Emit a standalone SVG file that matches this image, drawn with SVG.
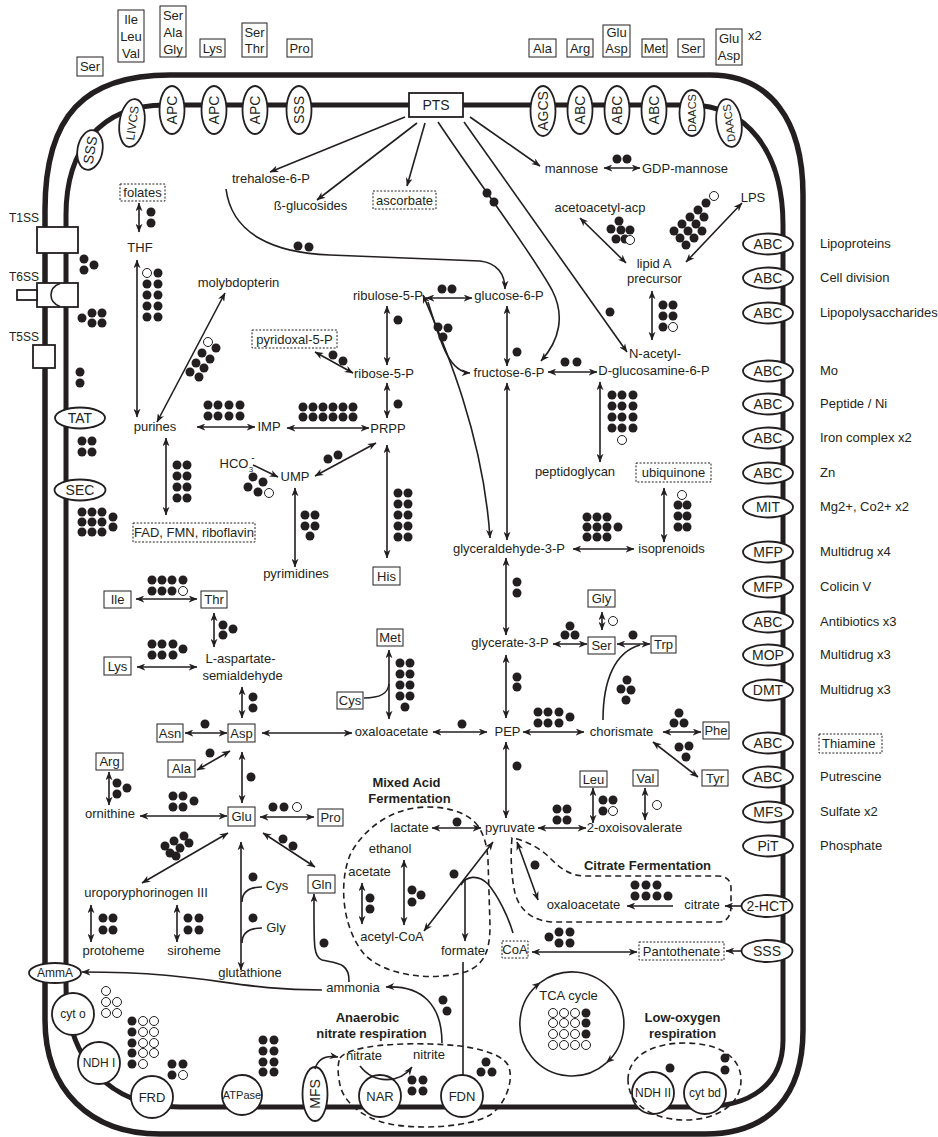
<svg xmlns="http://www.w3.org/2000/svg" width="938" height="1137" viewBox="0 0 938 1137">
<defs>
<style>
text{font-family:"Liberation Sans",Arial,sans-serif;font-size:13px;fill:#231f20;text-anchor:middle}
.st{text-anchor:start}
.bd{font-weight:bold}
.tl{font-size:14px}
.sm{font-size:12px}
.xs{font-size:11px}
.m{fill:none;stroke:#231f20;stroke-width:5.5}
.mi{fill:none;stroke:#231f20;stroke-width:5}
.c{fill:none;stroke:#231f20;stroke-width:1.6}
.a{marker-end:url(#ah)}
.d{marker-start:url(#ah);marker-end:url(#ah)}
.bx{fill:#fff;stroke:#231f20;stroke-width:1}
.dx{fill:#fff;stroke:#231f20;stroke-width:1;stroke-dasharray:2,1.6}
.tr{fill:#fff;stroke:#231f20;stroke-width:1.8}
.f{fill:#231f20}
.o{fill:#fff;stroke:#231f20;stroke-width:1}
.ds{fill:none;stroke:#231f20;stroke-width:1.6;stroke-dasharray:6,4}
</style>
<marker id="ah" viewBox="0 0 10 8" refX="9.5" refY="4" markerWidth="9" markerHeight="7" markerUnits="userSpaceOnUse" orient="auto-start-reverse"><path d="M0,0 L10,4 L0,8 L3,4 Z" fill="#231f20"/></marker>
</defs>
<rect width="938" height="1137" fill="#fff"/>

<g id="membranes">
<path class="m" d="M170,75 L710,75 C770,75 803,120 803,195 L803,1030 C803,1095 770,1134 705,1134 L160,1134 C90,1134 45,1090 45,1020 L45,210 C45,115 85,75 170,75 Z"/>
<path class="mi" d="M165,105 L690,105 C745,105 783,150 783,225 L783,1040 C783,1085 750,1107 700,1107 L180,1107 C110,1107 66,1060 66,985 L66,215 C66,150 100,105 165,105 Z"/>
</g>

<g id="external">
<g id="ex-ser1"><rect class="bx" x="77" y="57" width="26" height="19"/><text x="90" y="71">Ser</text></g>
<g id="ex-ilv"><rect class="bx" x="118" y="10" width="26" height="52"/><text x="131" y="24">Ile</text><text x="131" y="41">Leu</text><text x="131" y="58">Val</text></g>
<g id="ex-sag"><rect class="bx" x="160" y="6" width="26" height="51"/><text x="173" y="20">Ser</text><text x="173" y="37">Ala</text><text x="173" y="54">Gly</text></g>
<g id="ex-lys"><rect class="bx" x="200" y="39" width="25" height="18"/><text x="212.5" y="53">Lys</text></g>
<g id="ex-st"><rect class="bx" x="242" y="23" width="25" height="34"/><text x="254.5" y="37">Ser</text><text x="254.5" y="53">Thr</text></g>
<g id="ex-pro"><rect class="bx" x="287" y="39" width="25" height="18"/><text x="299.5" y="53">Pro</text></g>
<g id="ex-ala"><rect class="bx" x="529" y="39" width="27" height="18"/><text x="542.5" y="53">Ala</text></g>
<g id="ex-arg"><rect class="bx" x="567" y="39" width="26" height="18"/><text x="580" y="53">Arg</text></g>
<g id="ex-ga1"><rect class="bx" x="603" y="25" width="27" height="32"/><text x="616.5" y="37">Glu</text><text x="616.5" y="53">Asp</text></g>
<g id="ex-met"><rect class="bx" x="642" y="39" width="25" height="18"/><text x="654.5" y="53">Met</text></g>
<g id="ex-ser2"><rect class="bx" x="678" y="39" width="26" height="18"/><text x="691" y="53">Ser</text></g>
<g id="ex-ga2"><rect class="bx" x="716" y="29" width="26" height="36"/><text x="729" y="43">Glu</text><text x="729" y="60">Asp</text><text class="st" x="748" y="40">x2</text></g>
</g>

<g id="transporters">
<g id="tp-sss1"><ellipse class="tr" cx="90" cy="150" rx="12.5" ry="20" transform="rotate(10 90 150)"/><text class="tl" transform="translate(90,150) rotate(-80)" y="5">SSS</text></g>
<g id="tp-livcs"><ellipse class="tr" cx="132" cy="123" rx="12.5" ry="24" transform="rotate(8 132 123)"/><text class="sm" transform="translate(132,123) rotate(-82)" y="4.5">LIVCS</text></g>
<g id="tp-apc1"><ellipse class="tr" cx="172" cy="110" rx="12.5" ry="24"/><text class="tl" transform="translate(172,110) rotate(-90)" y="5">APC</text></g>
<g id="tp-apc2"><ellipse class="tr" cx="214" cy="110" rx="12.5" ry="24"/><text class="tl" transform="translate(214,110) rotate(-90)" y="5">APC</text></g>
<g id="tp-apc3"><ellipse class="tr" cx="255" cy="110" rx="12.5" ry="24"/><text class="tl" transform="translate(255,110) rotate(-90)" y="5">APC</text></g>
<g id="tp-sss2"><ellipse class="tr" cx="299" cy="110" rx="12.5" ry="24"/><text class="tl" transform="translate(299,110) rotate(-90)" y="5">SSS</text></g>
<g id="tp-pts"><rect class="tr" x="409" y="93" width="54" height="24"/><text class="tl" x="436" y="110">PTS</text></g>
<g id="tp-agcs"><ellipse class="tr" cx="543" cy="111" rx="12.5" ry="25"/><text class="tl" transform="translate(543,111) rotate(-90)" y="5">AGCS</text></g>
<g id="tp-abc1"><ellipse class="tr" cx="580" cy="110" rx="12.5" ry="24"/><text class="tl" transform="translate(580,110) rotate(-90)" y="5">ABC</text></g>
<g id="tp-abc2"><ellipse class="tr" cx="617" cy="110" rx="12.5" ry="24"/><text class="tl" transform="translate(617,110) rotate(-90)" y="5">ABC</text></g>
<g id="tp-abc3"><ellipse class="tr" cx="654" cy="110" rx="12.5" ry="24"/><text class="tl" transform="translate(654,110) rotate(-90)" y="5">ABC</text></g>
<g id="tp-daacs1"><ellipse class="tr" cx="692" cy="113" rx="12.5" ry="23"/><text class="xs" transform="translate(692,113) rotate(-90)" y="4">DAACS</text></g>
<g id="tp-daacs2"><ellipse class="tr" cx="729" cy="123" rx="12.5" ry="24" transform="rotate(-8 729 123)"/><text class="xs" transform="translate(729,123) rotate(-98)" y="4">DAACS</text></g>

<g id="tp-t1ss"><rect class="tr" x="37" y="227" width="41" height="26"/><text class="sm" x="24" y="222">T1SS</text></g>
<g id="tp-t6ss"><rect class="tr" x="37" y="283" width="41" height="24"/><rect class="tr" x="17" y="290" width="20" height="10"/><path class="c" d="M60,283.5 C48,288 48,302 60,306.5"/><text class="sm" x="24" y="281">T6SS</text></g>
<g id="tp-t5ss"><rect class="tr" x="33" y="345" width="22" height="23"/><text class="sm" x="24" y="341">T5SS</text></g>
<g id="tp-tat"><ellipse class="tr" cx="80" cy="418" rx="25" ry="10.5"/><text class="tl" x="80" y="423">TAT</text></g>
<g id="tp-sec"><ellipse class="tr" cx="80" cy="490" rx="25.5" ry="10.5"/><text class="tl" x="80" y="495">SEC</text></g>

<g id="tp-r1"><ellipse class="tr" cx="768" cy="244" rx="25" ry="10.5"/><text class="tl" x="768" y="249">ABC</text><text class="st" x="820" y="248">Lipoproteins</text></g>
<g id="tp-r2"><ellipse class="tr" cx="768" cy="278" rx="25" ry="10.5"/><text class="tl" x="768" y="283">ABC</text><text class="st" x="820" y="282">Cell division</text></g>
<g id="tp-r3"><ellipse class="tr" cx="768" cy="313" rx="25" ry="10.5"/><text class="tl" x="768" y="318">ABC</text><text class="st" x="820" y="317">Lipopolysaccharides</text></g>
<g id="tp-r4"><ellipse class="tr" cx="768" cy="371" rx="25" ry="10.5"/><text class="tl" x="768" y="376">ABC</text><text class="st" x="820" y="375">Mo</text></g>
<g id="tp-r5"><ellipse class="tr" cx="768" cy="404" rx="25" ry="10.5"/><text class="tl" x="768" y="409">ABC</text><text class="st" x="820" y="408">Peptide / Ni</text></g>
<g id="tp-r6"><ellipse class="tr" cx="768" cy="438" rx="25" ry="10.5"/><text class="tl" x="768" y="443">ABC</text><text class="st" x="820" y="442">Iron complex x2</text></g>
<g id="tp-r7"><ellipse class="tr" cx="768" cy="473" rx="25" ry="10.5"/><text class="tl" x="768" y="478">ABC</text><text class="st" x="820" y="477">Zn</text></g>
<g id="tp-r8"><ellipse class="tr" cx="768" cy="507" rx="25" ry="10.5"/><text class="tl" x="768" y="512">MIT</text><text class="st" x="820" y="511">Mg2+, Co2+ x2</text></g>
<g id="tp-r9"><ellipse class="tr" cx="768" cy="552" rx="25" ry="10.5"/><text class="tl" x="768" y="557">MFP</text><text class="st" x="820" y="556">Multidrug x4</text></g>
<g id="tp-r10"><ellipse class="tr" cx="768" cy="587" rx="25" ry="10.5"/><text class="tl" x="768" y="592">MFP</text><text class="st" x="820" y="591">Colicin V</text></g>
<g id="tp-r11"><ellipse class="tr" cx="768" cy="622" rx="25" ry="10.5"/><text class="tl" x="768" y="627">ABC</text><text class="st" x="820" y="626">Antibiotics x3</text></g>
<g id="tp-r12"><ellipse class="tr" cx="768" cy="655" rx="25" ry="10.5"/><text class="tl" x="768" y="660">MOP</text><text class="st" x="820" y="659">Multidrug x3</text></g>
<g id="tp-r13"><ellipse class="tr" cx="768" cy="690" rx="25" ry="10.5"/><text class="tl" x="768" y="695">DMT</text><text class="st" x="820" y="694">Multidrug x3</text></g>
<g id="tp-r14"><ellipse class="tr" cx="768" cy="743" rx="25" ry="10.5"/><text class="tl" x="768" y="748">ABC</text><rect class="dx" x="819" y="734" width="63" height="19"/><text class="st" x="822" y="748">Thiamine</text></g>
<g id="tp-r15"><ellipse class="tr" cx="768" cy="777" rx="25" ry="10.5"/><text class="tl" x="768" y="782">ABC</text><text class="st" x="820" y="781">Putrescine</text></g>
<g id="tp-r16"><ellipse class="tr" cx="768" cy="812" rx="25" ry="10.5"/><text class="tl" x="768" y="817">MFS</text><text class="st" x="820" y="816">Sulfate x2</text></g>
<g id="tp-r17"><ellipse class="tr" cx="768" cy="846" rx="25" ry="10.5"/><text class="tl" x="768" y="851">PiT</text><text class="st" x="820" y="850">Phosphate</text></g>
<g id="tp-2hct"><ellipse class="tr" cx="767" cy="906" rx="25.5" ry="11"/><text class="tl" x="767" y="911">2-HCT</text></g>
<g id="tp-sss3"><ellipse class="tr" cx="767" cy="951" rx="25.5" ry="11"/><text class="tl" x="767" y="956">SSS</text></g>

<g id="tp-amma"><ellipse class="tr" cx="55" cy="973" rx="26" ry="10"/><text class="sm" x="55" y="977">AmmA</text></g>
<g id="tp-cyto"><circle class="tr" cx="73" cy="1014" r="21"/><text class="sm" x="73" y="1018">cyt o</text></g>
<g id="tp-ndh1"><circle class="tr" cx="99" cy="1063" r="21"/><text class="sm" x="99" y="1067">NDH I</text></g>
<g id="tp-frd"><circle class="tr" cx="152" cy="1097" r="21"/><text x="152" y="1101.5">FRD</text></g>
<g id="tp-atpase"><circle class="tr" cx="242" cy="1095" r="20"/><text class="xs" x="242" y="1099">ATPase</text></g>
<g id="tp-mfs"><ellipse class="tr" cx="315" cy="1094" rx="12.5" ry="27"/><text class="tl" transform="translate(315,1094) rotate(-90)" y="5">MFS</text></g>
<g id="tp-nar"><circle class="tr" cx="380" cy="1096" r="21"/><text x="380" y="1100.5">NAR</text></g>
<g id="tp-fdn"><circle class="tr" cx="462" cy="1096" r="21"/><text x="462" y="1100.5">FDN</text></g>
<g id="tp-ndh2"><circle class="tr" cx="653" cy="1093" r="21"/><text class="sm" x="653" y="1097">NDH II</text></g>
<g id="tp-cytbd"><circle class="tr" cx="705" cy="1093" r="21"/><text class="sm" x="705" y="1097">cyt bd</text></g>
</g>

<g id="regions">
<path class="ds" d="M478,826 C465,808 430,803 405,810 C380,817 360,835 350,855 C338,885 343,930 365,955 C385,975 430,982 465,972 C485,965 490,950 490,925 L488,860 C487,845 484,835 478,826 Z"/>
<path class="ds" d="M512,838 C510,860 512,880 515,893 C520,912 535,922 555,922 L718,922 C728,922 731,915 731,905 L731,888 C731,880 726,876 718,876 L585,876 C570,876 560,868 550,858 C540,848 525,840 512,838 Z"/>
<path class="ds" d="M340,1058 C350,1045 400,1043 430,1044 C470,1045 500,1052 508,1065 C515,1080 505,1105 490,1115 C470,1127 420,1130 390,1124 C360,1118 343,1100 340,1085 C338,1075 337,1065 340,1058 Z"/>
<path class="ds" d="M628,1080 C628,1055 654,1043 685,1043 C716,1043 741,1055 741,1080 C741,1105 716,1120 685,1120 C654,1120 628,1105 628,1080 Z"/>
<text class="bd" x="406.5" y="787">Mixed Acid</text><text class="bd" x="409.5" y="803">Fermentation</text>
<text class="bd" x="647.5" y="870">Citrate Fermentation</text>
<text class="bd" x="367.5" y="1022">Anaerobic</text><text class="bd" x="371.5" y="1038">nitrate respiration</text>
<text class="bd" x="682.5" y="1022">Low-oxygen</text><text class="bd" x="682.5" y="1038">respiration</text>
</g>

<g id="connectors">
<path class="c a" d="M405,117 L270,172"/>
<path class="c a" d="M417,123 L317,200"/>
<path class="c a" d="M425,123 L407,186"/>
<path class="c a" d="M438,122 C480,185 530,250 552,290 C565,315 560,340 541,361"/>
<path class="c a" d="M464,122 L627,352"/>
<path class="c a" d="M470,117 L540,166"/>
<path class="c d" d="M604,168 L640,168"/>
<path class="c a" d="M226,189 C232,235 275,253 330,255 L480,261 C498,263 505,275 505,289"/>
<path class="c d" d="M426,298 L472,298"/>
<path class="c d" d="M387,306 L387,365"/>
<path class="c d" d="M507,306 L507,366"/>
<path class="c d" d="M423,295 C440,335 483,430 490,538"/>
<path class="c a" d="M428,302 C440,340 448,372 470,373"/>
<path class="c d" d="M548,372 L597,372"/>
<path class="c d" d="M507,383 L507,540"/>
<path class="c d" d="M652,291 L652,340"/>
<path class="c d" d="M580,218 L626,263"/>
<path class="c d" d="M686,262 L742,203"/>
<path class="c d" d="M600,382 L600,462"/>
<path class="c d" d="M664,488 L664,542"/>
<path class="c d" d="M573,549 L634,549"/>
<path class="c d" d="M315,352 L353,373"/>
<path class="c d" d="M387,383 L387,418"/>
<path class="c d" d="M287,428 L369,428"/>
<path class="c d" d="M197,427 L255,427"/>
<path class="c a" d="M253,465 L278,477"/>
<path class="c d" d="M315,476 L376,443"/>
<path class="c d" d="M295,488 L295,567"/>
<path class="c d" d="M387,445 L387,558"/>
<path class="c d" d="M139,203 L139,232"/>
<path class="c d" d="M137,260 L137,417"/>
<path class="c d" d="M157,422 L225,293"/>
<path class="c d" d="M166,438 L166,515"/>
<path class="c d" d="M136,599 L197,599"/>
<path class="c d" d="M214,613 L214,647"/>
<path class="c d" d="M137,667 L197,667"/>
<path class="c d" d="M242,687 L242,718"/>
<path class="c d" d="M185,733 L227,733"/>
<path class="c d" d="M262,733 L352,733"/>
<path class="c d" d="M197,770 L230,751"/>
<path class="c d" d="M242,752 L242,803"/>
<path class="c d" d="M109,772 L109,805"/>
<path class="c d" d="M140,816 L227,816"/>
<path class="c d" d="M260,817 L314,817"/>
<path class="c d" d="M389,650 L389,719"/>
<path class="c" d="M364,698 C380,698 388,694 389,684"/>
<path class="c d" d="M433,732 L487,732"/>
<path class="c d" d="M506,558 L506,635"/>
<path class="c d" d="M506,655 L506,718"/>
<path class="c d" d="M553,644 L587,644"/>
<path class="c d" d="M602,612 L602,630"/>
<path class="c d" d="M617,644 L650,644"/>
<path class="c" d="M603,720 C603,680 615,652 640,645"/>
<path class="c d" d="M523,732 L584,732"/>
<path class="c d" d="M663,732 L701,732"/>
<path class="c d" d="M653,742 L698,777"/>
<path class="c d" d="M506,742 L506,818"/>
<path class="c d" d="M432,828 L481,828"/>
<path class="c d" d="M538,828 L586,828"/>
<path class="c d" d="M593,788 L593,823"/>
<path class="c d" d="M645,788 L645,820"/>
<path class="c d" d="M362,883 L362,924"/>
<path class="c d" d="M404,860 L404,925"/>
<path class="c d" d="M493,842 L424,931"/>
<path class="c" d="M461,885 C466,876 478,874 488,884 C498,896 508,916 513,933"/>
<path class="c a" d="M465,879 L465,941"/>
<path class="c d" d="M517,842 L538,900"/>
<path class="c a" d="M673,906 L627,906"/>
<path class="c a" d="M742,906 L725,906"/>
<path class="c d" d="M532,952 L637,952"/>
<path class="c a" d="M742,951 L726,951"/>
<path class="c" d="M463,962 L463,1075"/>
<path class="c d" d="M263,833 L315,867"/>
<path class="c d" d="M228,833 L142,883"/>
<path class="c d" d="M91,905 L91,942"/>
<path class="c d" d="M177,905 L177,942"/>
<path class="c d" d="M241,842 L241,970"/>
<path class="c" d="M262,887 C248,887 242,893 242,902"/>
<path class="c" d="M262,928 C248,928 242,934 242,943"/>
<path class="c a" d="M322,990 C230,990 210,972 82,972"/>
<path class="c a" d="M349,982 C350,962 335,963 322,960 C313,957 314,945 314,894"/>
<path class="c a" d="M442,1043 C442,1005 422,985 386,987"/>
<path class="c a" d="M315,1069 C318,1058 326,1055 338,1057"/>
<path class="c a" d="M360,1066 C375,1085 400,1083 412,1067"/>
<path class="c a" d="M606.4,1062.8 A52,52 0 1,1 540.3,982.6"/>
<path class="c a" d="M540.3,982.6 A52,52 0 0,1 606.4,1062.8"/>
</g>

<g id="nodes">
<g id="n-treh"><text x="271" y="183">trehalose-6-P</text></g>
<g id="n-bglu"><text x="310.5" y="210">ß-glucosides</text></g>
<g id="n-asc"><rect class="dx" x="373" y="191" width="63" height="18"/><text x="404.5" y="205">ascorbate</text></g>
<g id="n-man"><text x="571.5" y="173">mannose</text></g>
<g id="n-gdpman"><text x="685" y="173">GDP-mannose</text></g>
<g id="n-acac"><text x="600" y="212">acetoacetyl-acp</text></g>
<g id="n-lps"><text x="753" y="202">LPS</text></g>
<g id="n-lipa"><text x="654" y="268">lipid A</text><text x="654.5" y="283">precursor</text></g>
<g id="n-fol"><rect class="dx" x="120" y="184" width="45" height="17"/><text x="142.5" y="197">folates</text></g>
<g id="n-thf"><text x="140" y="252">THF</text></g>
<g id="n-moly"><text x="238.5" y="287">molybdopterin</text></g>
<g id="n-ru5p"><text x="388" y="300">ribulose-5-P</text></g>
<g id="n-g6p"><text x="509" y="300">glucose-6-P</text></g>
<g id="n-pyr5p"><rect class="dx" x="252" y="330" width="85" height="18"/><text x="294.5" y="344">pyridoxal-5-P</text></g>
<g id="n-r5p"><text x="384" y="378">ribose-5-P</text></g>
<g id="n-f6p"><text x="509" y="377">fructose-6-P</text></g>
<g id="n-glcn"><text x="655" y="358">N-acetyl-</text><text x="654" y="375">D-glucosamine-6-P</text></g>
<g id="n-pur"><text x="155" y="431">purines</text></g>
<g id="n-imp"><text x="269" y="431">IMP</text></g>
<g id="n-prpp"><text x="388" y="433">PRPP</text></g>
<g id="n-hco3"><text x="234" y="468">HCO</text><text style="font-size:8px" x="251" y="472">3</text><text style="font-size:10px" x="253" y="461">-</text></g>
<g id="n-ump"><text x="295" y="481">UMP</text></g>
<g id="n-pg"><text x="575" y="476">peptidoglycan</text></g>
<g id="n-ubq"><rect class="dx" x="636" y="463" width="75" height="19"/><text x="673.5" y="477">ubiquinone</text></g>
<g id="n-fad"><rect class="dx" x="133" y="523" width="122" height="19"/><text x="194" y="537">FAD, FMN, riboflavin</text></g>
<g id="n-gap"><text x="509" y="553">glyceraldehyde-3-P</text></g>
<g id="n-iso"><text x="671.5" y="553">isoprenoids</text></g>
<g id="n-pyrim"><text x="296" y="578">pyrimidines</text></g>
<g id="n-his"><rect class="bx" x="373" y="567" width="27" height="18"/><text x="386.5" y="581">His</text></g>
<g id="n-ile"><rect class="bx" x="104" y="591" width="27" height="17"/><text x="117.5" y="604">Ile</text></g>
<g id="n-thr"><rect class="bx" x="201" y="591" width="26" height="17"/><text x="214" y="604">Thr</text></g>
<g id="n-gly"><rect class="bx" x="588" y="590" width="27" height="17"/><text x="601.5" y="603">Gly</text></g>
<g id="n-met"><rect class="bx" x="377" y="629" width="26" height="17"/><text x="390" y="642">Met</text></g>
<g id="n-g3p"><text x="510" y="647">glycerate-3-P</text></g>
<g id="n-ser"><rect class="bx" x="588" y="637" width="27" height="17"/><text x="601.5" y="650">Ser</text></g>
<g id="n-trp"><rect class="bx" x="651" y="636" width="25" height="17"/><text x="663.5" y="649">Trp</text></g>
<g id="n-lys"><rect class="bx" x="104" y="657" width="27" height="18"/><text x="117.5" y="671">Lys</text></g>
<g id="n-lasa"><text x="240.5" y="663">L-aspartate-</text><text x="242.5" y="680">semialdehyde</text></g>
<g id="n-cys"><rect class="bx" x="337" y="692" width="26" height="17"/><text x="350" y="705">Cys</text></g>
<g id="n-asn"><rect class="bx" x="157" y="724" width="26" height="18"/><text x="170" y="738">Asn</text></g>
<g id="n-asp"><rect class="bx" x="228" y="724" width="27" height="18"/><text x="241.5" y="738">Asp</text></g>
<g id="n-oaa"><text x="391.5" y="736">oxaloacetate</text></g>
<g id="n-pep"><text x="507.5" y="736">PEP</text></g>
<g id="n-chor"><text x="621.5" y="736">chorismate</text></g>
<g id="n-phe"><rect class="bx" x="703" y="722" width="26" height="17"/><text x="716" y="735">Phe</text></g>
<g id="n-arg"><rect class="bx" x="96" y="753" width="27" height="17"/><text x="109.5" y="766">Arg</text></g>
<g id="n-ala"><rect class="bx" x="168" y="760" width="27" height="17"/><text x="181.5" y="773">Ala</text></g>
<g id="n-tyr"><rect class="bx" x="702" y="770" width="26" height="16"/><text x="715" y="783">Tyr</text></g>
<g id="n-leu"><rect class="bx" x="580" y="771" width="27" height="16"/><text x="593.5" y="784">Leu</text></g>
<g id="n-val"><rect class="bx" x="633" y="770" width="25" height="16"/><text x="645.5" y="783">Val</text></g>
<g id="n-orn"><text x="110" y="818">ornithine</text></g>
<g id="n-glu"><rect class="bx" x="228" y="807" width="27" height="19"/><text x="241.5" y="821">Glu</text></g>
<g id="n-pro"><rect class="bx" x="318" y="809" width="25" height="17"/><text x="330.5" y="822">Pro</text></g>
<g id="n-lac"><text x="409.5" y="832">lactate</text></g>
<g id="n-pyr"><text x="510" y="832">pyruvate</text></g>
<g id="n-oxo"><text x="634.5" y="832">2-oxoisovalerate</text></g>
<g id="n-eth"><text x="390" y="853">ethanol</text></g>
<g id="n-ace"><text x="369.5" y="876">acetate</text></g>
<g id="n-gln"><rect class="bx" x="308" y="875" width="27" height="18"/><text x="321.5" y="889">Gln</text></g>
<g id="n-cys2"><text x="277" y="890">Cys</text></g>
<g id="n-uro"><text x="146" y="897">uroporyphorinogen III</text></g>
<g id="n-oaa2"><text x="583.5" y="909">oxaloacetate</text></g>
<g id="n-cit"><text x="702" y="909">citrate</text></g>
<g id="n-gly2"><text x="276" y="932">Gly</text></g>
<g id="n-acoa"><text x="392" y="941">acetyl-CoA</text></g>
<g id="n-proto"><text x="113.5" y="955">protoheme</text></g>
<g id="n-siro"><text x="194" y="955">siroheme</text></g>
<g id="n-form"><text x="463" y="955">formate</text></g>
<g id="n-coa"><rect class="dx" x="502" y="941" width="26" height="17"/><text x="515" y="954">CoA</text></g>
<g id="n-pant"><rect class="dx" x="639" y="942" width="85" height="18"/><text x="681.5" y="956">Pantothenate</text></g>
<g id="n-gsh"><text x="250" y="977">glutathione</text></g>
<g id="n-amm"><text x="353" y="992">ammonia</text></g>
<g id="n-tca"><text x="568.5" y="1000">TCA cycle</text></g>
<g id="n-nitrate"><text x="364" y="1060">nitrate</text></g>
<g id="n-nitrite"><text x="429" y="1059">nitrite</text></g>
</g>

<g id="dots">
<g class="f">
<circle cx="617" cy="159" r="4.5"/><circle cx="627" cy="159" r="4.5"/>
<circle cx="298" cy="246" r="4.5"/><circle cx="309" cy="247" r="4.5"/>
<circle cx="487" cy="193" r="4.5"/><circle cx="494" cy="202" r="4.5"/>
<circle cx="610" cy="312" r="4.5"/>
<circle cx="619" cy="221" r="4.5"/><circle cx="611" cy="229" r="4.5"/><circle cx="621" cy="230" r="4.5"/><circle cx="630" cy="230" r="4.5"/><circle cx="616" cy="239" r="4.5"/><circle cx="625" cy="239" r="4.5"/>
<circle cx="674" cy="231" r="4.5"/><circle cx="682" cy="224" r="4.5"/><circle cx="690" cy="217" r="4.5"/><circle cx="698" cy="210" r="4.5"/><circle cx="706" cy="203" r="4.5"/>
<circle cx="680" cy="238" r="4.5"/><circle cx="688" cy="231" r="4.5"/><circle cx="696" cy="224" r="4.5"/><circle cx="704" cy="217" r="4.5"/>
<circle cx="686" cy="245" r="4.5"/><circle cx="694" cy="238" r="4.5"/><circle cx="702" cy="231" r="4.5"/>
<circle cx="663" cy="305" r="4.5"/><circle cx="673" cy="305" r="4.5"/><circle cx="663" cy="316" r="4.5"/><circle cx="673" cy="316" r="4.5"/><circle cx="663" cy="327" r="4.5"/>
<circle cx="84" cy="259" r="4.5"/><circle cx="94" cy="265" r="4.5"/><circle cx="84" cy="270" r="4.5"/>
<circle cx="82" cy="318" r="4.5"/><circle cx="92" cy="313" r="4.5"/><circle cx="102" cy="313" r="4.5"/><circle cx="92" cy="323" r="4.5"/><circle cx="102" cy="323" r="4.5"/>
<circle cx="80" cy="372" r="4.5"/><circle cx="80" cy="383" r="4.5"/>
<circle cx="82" cy="441" r="4.5"/><circle cx="92" cy="441" r="4.5"/><circle cx="82" cy="452" r="4.5"/><circle cx="92" cy="452" r="4.5"/>
<circle cx="82" cy="512" r="4.5"/><circle cx="92" cy="512" r="4.5"/><circle cx="102" cy="512" r="4.5"/><circle cx="113" cy="517" r="4.5"/>
<circle cx="82" cy="522" r="4.5"/><circle cx="92" cy="522" r="4.5"/><circle cx="102" cy="522" r="4.5"/><circle cx="113" cy="527" r="4.5"/>
<circle cx="82" cy="532" r="4.5"/><circle cx="92" cy="532" r="4.5"/><circle cx="102" cy="532" r="4.5"/>
<circle cx="151" cy="212" r="4.5"/><circle cx="151" cy="223" r="4.5"/>
<circle cx="158" cy="273" r="4.5"/><circle cx="147" cy="284" r="4.5"/><circle cx="158" cy="284" r="4.5"/><circle cx="147" cy="295" r="4.5"/><circle cx="158" cy="295" r="4.5"/><circle cx="147" cy="306" r="4.5"/><circle cx="158" cy="306" r="4.5"/><circle cx="147" cy="317" r="4.5"/><circle cx="158" cy="317" r="4.5"/>
<circle cx="216" cy="348" r="4.5"/><circle cx="202" cy="353" r="4.5"/><circle cx="210" cy="359" r="4.5"/><circle cx="196" cy="363" r="4.5"/><circle cx="204" cy="368" r="4.5"/><circle cx="190" cy="372" r="4.5"/><circle cx="199" cy="377" r="4.5"/>
<circle cx="442" cy="289" r="4.5"/><circle cx="452" cy="289" r="4.5"/>
<circle cx="398" cy="320" r="4.5"/>
<circle cx="517" cy="352" r="4.5"/>
<circle cx="438" cy="327" r="4.5"/><circle cx="448" cy="328" r="4.5"/><circle cx="443" cy="337" r="4.5"/>
<circle cx="565" cy="362" r="4.5"/><circle cx="577" cy="362" r="4.5"/>
<circle cx="333" cy="355" r="4.5"/><circle cx="343" cy="361" r="4.5"/>
<circle cx="398" cy="404" r="4.5"/>
<circle cx="303" cy="407" r="4.5"/><circle cx="313" cy="407" r="4.5"/><circle cx="323" cy="407" r="4.5"/><circle cx="333" cy="407" r="4.5"/><circle cx="343" cy="407" r="4.5"/><circle cx="353" cy="407" r="4.5"/>
<circle cx="303" cy="417" r="4.5"/><circle cx="313" cy="417" r="4.5"/><circle cx="323" cy="417" r="4.5"/><circle cx="333" cy="417" r="4.5"/><circle cx="343" cy="417" r="4.5"/><circle cx="353" cy="417" r="4.5"/>
<circle cx="208" cy="405" r="4.5"/><circle cx="218" cy="405" r="4.5"/><circle cx="229" cy="405" r="4.5"/><circle cx="240" cy="405" r="4.5"/>
<circle cx="208" cy="416" r="4.5"/><circle cx="218" cy="416" r="4.5"/><circle cx="229" cy="416" r="4.5"/><circle cx="240" cy="416" r="4.5"/>
<circle cx="253" cy="477" r="4.5"/><circle cx="263" cy="482" r="4.5"/><circle cx="248" cy="487" r="4.5"/><circle cx="258" cy="492" r="4.5"/>
<circle cx="328" cy="459" r="4.5"/><circle cx="338" cy="455" r="4.5"/>
<circle cx="305" cy="515" r="4.5"/><circle cx="315" cy="515" r="4.5"/><circle cx="305" cy="526" r="4.5"/><circle cx="315" cy="526" r="4.5"/><circle cx="310" cy="536" r="4.5"/>
<circle cx="398" cy="493" r="4.5"/><circle cx="408" cy="493" r="4.5"/><circle cx="398" cy="504" r="4.5"/><circle cx="408" cy="504" r="4.5"/><circle cx="398" cy="515" r="4.5"/><circle cx="408" cy="515" r="4.5"/><circle cx="398" cy="526" r="4.5"/><circle cx="408" cy="526" r="4.5"/><circle cx="398" cy="537" r="4.5"/><circle cx="408" cy="537" r="4.5"/>
<circle cx="177" cy="465" r="4.5"/><circle cx="187" cy="465" r="4.5"/><circle cx="177" cy="476" r="4.5"/><circle cx="187" cy="476" r="4.5"/><circle cx="177" cy="487" r="4.5"/><circle cx="187" cy="487" r="4.5"/><circle cx="177" cy="498" r="4.5"/><circle cx="187" cy="498" r="4.5"/>
<circle cx="612" cy="395" r="4.5"/><circle cx="622" cy="395" r="4.5"/><circle cx="633" cy="395" r="4.5"/><circle cx="612" cy="406" r="4.5"/><circle cx="622" cy="406" r="4.5"/><circle cx="633" cy="406" r="4.5"/><circle cx="612" cy="417" r="4.5"/><circle cx="622" cy="417" r="4.5"/><circle cx="633" cy="417" r="4.5"/><circle cx="612" cy="428" r="4.5"/><circle cx="622" cy="428" r="4.5"/><circle cx="633" cy="428" r="4.5"/>
<circle cx="678" cy="505" r="4.5"/><circle cx="687" cy="505" r="4.5"/><circle cx="678" cy="516" r="4.5"/><circle cx="687" cy="516" r="4.5"/><circle cx="678" cy="527" r="4.5"/><circle cx="687" cy="527" r="4.5"/>
<circle cx="587" cy="517" r="4.5"/><circle cx="597" cy="517" r="4.5"/><circle cx="607" cy="517" r="4.5"/><circle cx="587" cy="527" r="4.5"/><circle cx="597" cy="527" r="4.5"/><circle cx="607" cy="527" r="4.5"/><circle cx="618" cy="527" r="4.5"/><circle cx="587" cy="537" r="4.5"/><circle cx="597" cy="537" r="4.5"/><circle cx="607" cy="537" r="4.5"/>
<circle cx="152" cy="580" r="4.5"/><circle cx="162" cy="580" r="4.5"/><circle cx="172" cy="580" r="4.5"/><circle cx="183" cy="580" r="4.5"/><circle cx="152" cy="591" r="4.5"/><circle cx="162" cy="591" r="4.5"/><circle cx="172" cy="591" r="4.5"/>
<circle cx="223" cy="625" r="4.5"/><circle cx="233" cy="629" r="4.5"/><circle cx="223" cy="635" r="4.5"/>
<circle cx="152" cy="644" r="4.5"/><circle cx="162" cy="644" r="4.5"/><circle cx="173" cy="644" r="4.5"/><circle cx="152" cy="655" r="4.5"/><circle cx="162" cy="655" r="4.5"/><circle cx="173" cy="655" r="4.5"/><circle cx="183" cy="649" r="4.5"/>
<circle cx="253" cy="697" r="4.5"/><circle cx="253" cy="708" r="4.5"/>
<circle cx="205" cy="724" r="4.5"/>
<circle cx="210" cy="753" r="4.5"/>
<circle cx="251" cy="777" r="4.5"/>
<circle cx="117" cy="783" r="4.5"/><circle cx="127" cy="788" r="4.5"/><circle cx="117" cy="794" r="4.5"/>
<circle cx="173" cy="796" r="4.5"/><circle cx="183" cy="796" r="4.5"/><circle cx="173" cy="807" r="4.5"/><circle cx="183" cy="807" r="4.5"/><circle cx="194" cy="801" r="4.5"/>
<circle cx="273" cy="807" r="4.5"/><circle cx="284" cy="807" r="4.5"/>
<circle cx="400" cy="663" r="4.5"/><circle cx="410" cy="663" r="4.5"/><circle cx="400" cy="674" r="4.5"/><circle cx="410" cy="674" r="4.5"/><circle cx="400" cy="685" r="4.5"/><circle cx="410" cy="685" r="4.5"/><circle cx="400" cy="696" r="4.5"/><circle cx="410" cy="696" r="4.5"/><circle cx="405" cy="707" r="4.5"/>
<circle cx="462" cy="724" r="4.5"/>
<circle cx="517" cy="582" r="4.5"/><circle cx="517" cy="593" r="4.5"/>
<circle cx="517" cy="677" r="4.5"/><circle cx="517" cy="687" r="4.5"/>
<circle cx="570" cy="626" r="4.5"/><circle cx="565" cy="635" r="4.5"/><circle cx="575" cy="635" r="4.5"/>
<circle cx="633" cy="635" r="4.5"/>
<circle cx="627" cy="680" r="4.5"/><circle cx="621" cy="689" r="4.5"/><circle cx="631" cy="690" r="4.5"/><circle cx="626" cy="700" r="4.5"/>
<circle cx="538" cy="712" r="4.5"/><circle cx="548" cy="712" r="4.5"/><circle cx="559" cy="712" r="4.5"/><circle cx="570" cy="717" r="4.5"/><circle cx="538" cy="723" r="4.5"/><circle cx="548" cy="723" r="4.5"/><circle cx="559" cy="723" r="4.5"/>
<circle cx="679" cy="713" r="4.5"/><circle cx="674" cy="723" r="4.5"/><circle cx="684" cy="723" r="4.5"/>
<circle cx="679" cy="747" r="4.5"/><circle cx="689" cy="746" r="4.5"/><circle cx="686" cy="757" r="4.5"/>
<circle cx="517" cy="766" r="4.5"/>
<circle cx="457" cy="822" r="4.5"/>
<circle cx="557" cy="809" r="4.5"/><circle cx="567" cy="809" r="4.5"/><circle cx="557" cy="820" r="4.5"/><circle cx="567" cy="820" r="4.5"/>
<circle cx="603" cy="800" r="4.5"/><circle cx="613" cy="800" r="4.5"/><circle cx="603" cy="811" r="4.5"/>
<circle cx="370" cy="898" r="4.5"/><circle cx="370" cy="909" r="4.5"/>
<circle cx="412" cy="890" r="4.5"/><circle cx="421" cy="895" r="4.5"/><circle cx="412" cy="902" r="4.5"/>
<circle cx="454" cy="874" r="4.5"/>
<circle cx="535" cy="865" r="4.5"/>
<circle cx="635" cy="885" r="4.5"/><circle cx="646" cy="885" r="4.5"/><circle cx="657" cy="885" r="4.5"/><circle cx="635" cy="896" r="4.5"/><circle cx="646" cy="896" r="4.5"/><circle cx="657" cy="896" r="4.5"/><circle cx="668" cy="896" r="4.5"/>
<circle cx="549" cy="937" r="4.5"/><circle cx="559" cy="932" r="4.5"/><circle cx="570" cy="932" r="4.5"/><circle cx="559" cy="943" r="4.5"/><circle cx="570" cy="943" r="4.5"/>
<circle cx="283" cy="839" r="4.5"/><circle cx="293" cy="846" r="4.5"/>
<circle cx="165" cy="846" r="4.5"/><circle cx="174" cy="841" r="4.5"/><circle cx="184" cy="836" r="4.5"/><circle cx="170" cy="853" r="4.5"/><circle cx="180" cy="848" r="4.5"/><circle cx="189" cy="843" r="4.5"/><circle cx="176" cy="856" r="4.5"/>
<circle cx="103" cy="918" r="4.5"/><circle cx="113" cy="918" r="4.5"/><circle cx="103" cy="930" r="4.5"/><circle cx="113" cy="930" r="4.5"/>
<circle cx="188" cy="918" r="4.5"/><circle cx="199" cy="918" r="4.5"/><circle cx="188" cy="930" r="4.5"/><circle cx="199" cy="930" r="4.5"/>
<circle cx="253" cy="877" r="4.5"/><circle cx="253" cy="918" r="4.5"/>
<circle cx="324" cy="943" r="4.5"/>
<circle cx="443" cy="1000" r="4.5"/><circle cx="447" cy="1011" r="4.5"/>
<circle cx="412" cy="1080" r="4.5"/><circle cx="423" cy="1080" r="4.5"/><circle cx="412" cy="1091" r="4.5"/><circle cx="423" cy="1091" r="4.5"/>
<circle cx="486" cy="1062" r="4.5"/><circle cx="481" cy="1072" r="4.5"/><circle cx="492" cy="1072" r="4.5"/>
<circle cx="670" cy="1068" r="4.5"/><circle cx="725" cy="1058" r="4.5"/><circle cx="725" cy="1070" r="4.5"/>
<circle cx="132" cy="1021" r="4.5"/><circle cx="132" cy="1032" r="4.5"/><circle cx="132" cy="1043" r="4.5"/><circle cx="132" cy="1053" r="4.5"/><circle cx="132" cy="1064" r="4.5"/>
<circle cx="172" cy="1064" r="4.5"/><circle cx="183" cy="1064" r="4.5"/><circle cx="172" cy="1075" r="4.5"/>
<circle cx="263" cy="1040" r="4.5"/><circle cx="274" cy="1040" r="4.5"/><circle cx="263" cy="1051" r="4.5"/><circle cx="274" cy="1051" r="4.5"/><circle cx="263" cy="1062" r="4.5"/><circle cx="274" cy="1062" r="4.5"/><circle cx="263" cy="1072" r="4.5"/><circle cx="274" cy="1072" r="4.5"/>
<circle cx="586" cy="1013" r="4.5"/><circle cx="586" cy="1023" r="4.5"/><circle cx="586" cy="1034" r="4.5"/>
</g>
<g class="o">
<circle cx="630" cy="240" r="4.5"/>
<circle cx="714" cy="196" r="4.5"/>
<circle cx="673" cy="327" r="4.5"/>
<circle cx="147" cy="273" r="4.5"/>
<circle cx="208" cy="342" r="4.5"/>
<circle cx="269" cy="493" r="4.5"/>
<circle cx="622" cy="440" r="4.5"/>
<circle cx="682" cy="495" r="4.5"/>
<circle cx="183" cy="591" r="4.5"/>
<circle cx="297" cy="807" r="4.5"/>
<circle cx="613" cy="621" r="4.5"/>
<circle cx="613" cy="811" r="4.5"/>
<circle cx="657" cy="805" r="4.5"/>
<circle cx="106" cy="991" r="4.5"/><circle cx="106" cy="1002" r="4.5"/><circle cx="117" cy="1002" r="4.5"/><circle cx="106" cy="1013" r="4.5"/><circle cx="117" cy="1013" r="4.5"/>
<circle cx="143" cy="1021" r="4.5"/><circle cx="143" cy="1032" r="4.5"/><circle cx="143" cy="1043" r="4.5"/><circle cx="143" cy="1053" r="4.5"/><circle cx="143" cy="1064" r="4.5"/>
<circle cx="154" cy="1021" r="4.5"/><circle cx="154" cy="1032" r="4.5"/><circle cx="154" cy="1043" r="4.5"/><circle cx="154" cy="1053" r="4.5"/>
<circle cx="183" cy="1075" r="4.5"/>
<circle cx="553" cy="1013" r="4.5"/><circle cx="564" cy="1013" r="4.5"/><circle cx="575" cy="1013" r="4.5"/>
<circle cx="553" cy="1023" r="4.5"/><circle cx="564" cy="1023" r="4.5"/><circle cx="575" cy="1023" r="4.5"/>
<circle cx="553" cy="1034" r="4.5"/><circle cx="564" cy="1034" r="4.5"/><circle cx="575" cy="1034" r="4.5"/>
<circle cx="553" cy="1045" r="4.5"/><circle cx="564" cy="1045" r="4.5"/><circle cx="575" cy="1045" r="4.5"/><circle cx="586" cy="1045" r="4.5"/>
</g>
</g>
</svg>
